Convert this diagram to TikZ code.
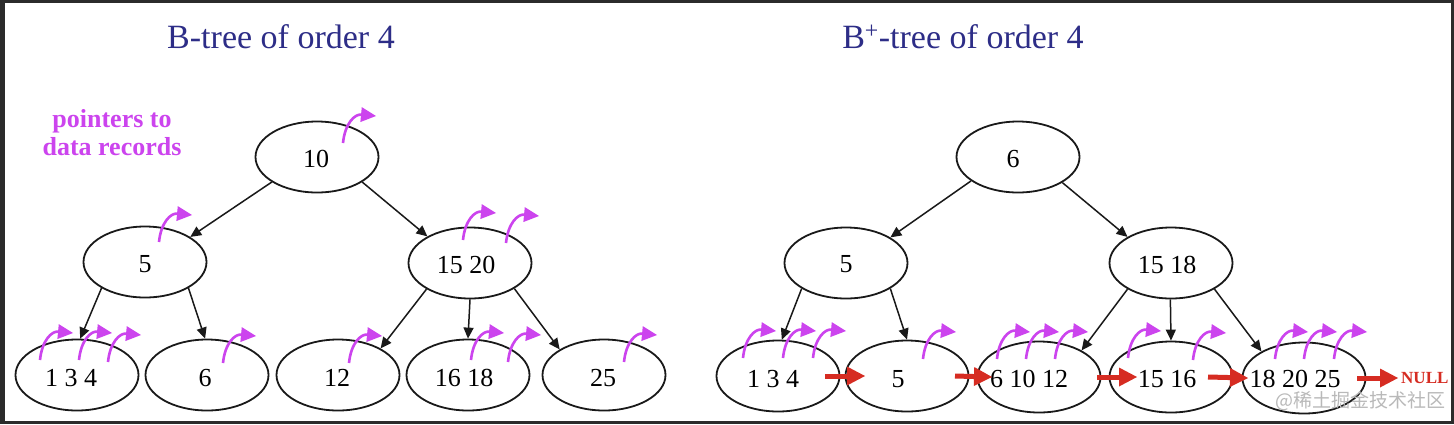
\documentclass[tikz,border=0pt]{standalone}
\usepackage{fontspec}
\setmainfont{Liberation Serif}
\newfontfamily\cjkfont{Noto Sans CJK SC}
\usetikzlibrary{shapes.geometric,arrows.meta,calc}
\definecolor{mag}{RGB}{204,68,238}
\definecolor{navy}{RGB}{45,45,135}
\definecolor{lnk}{RGB}{214,44,34}
\definecolor{framecol}{RGB}{43,43,43}
\definecolor{ink}{RGB}{25,25,25}
\definecolor{wmark}{RGB}{185,185,185}
\begin{document}
\begin{tikzpicture}[x=1pt,y=-1pt,
  bnode/.style={ellipse, draw=ink, line width=1.8pt, minimum width=123pt, minimum height=71pt, inner sep=0pt},
  keytext/.style={anchor=base, font=\fontsize{26}{26}\selectfont, text=black, inner sep=0pt},
  title/.style={anchor=base, font=\fontsize{34}{34}\selectfont, text=navy, inner sep=0pt},
  edge/.style={draw=ink, line width=1.5pt, -{Triangle[length=11pt,width=10pt]}},
  link/.style={draw=lnk, line width=5pt, -{Triangle[length=18pt,width=19pt,line width=0pt]}},
  ptrline/.style={draw=mag, line width=2.6pt, -{Triangle[length=15pt,width=15pt,line width=0pt]}},
  ptr/.pic={\draw[ptrline] (0,0) .. controls (2,-20) and (12,-29) .. (33,-27);}
]
\fill[framecol] (0,0) rectangle (1454,424);
\fill[white] (5,3) rectangle (1451,421);
\useasboundingbox (0,0) rectangle (1454,424);

% titles
\node[title] (t1) at (281,48) {B-tree of order 4};
\node[title] (t2) at (963,48) {B\textsuperscript{+}-tree of order 4};
\node[font=\bfseries\fontsize{26}{28}\selectfont, text=mag, align=center, inner sep=0pt] (plab) at (112,133) {pointers to\\data records};

% ---------------- B-tree ----------------
\node[bnode] (bR) at (317,157) {};
\node[bnode] (bA) at (145,262) {};
\node[bnode] (bB) at (470,263) {};
\node[bnode] (bL1) at (77,375) {};
\node[bnode] (bL2) at (207,375) {};
\node[bnode] (bL3) at (338,375) {};
\node[bnode] (bL4) at (468,375) {};
\node[bnode] (bL5) at (604,375) {};

\node[keytext] (tbR) at (316,167) {10};
\node[keytext] (tbA) at (145,272) {5};
\node[keytext] (tbB) at (466,273) {15 20};
\node[keytext] (tbL1) at (71,386) {1 3 4};
\node[keytext] (tbL2) at (205,386) {6};
\node[keytext] (tbL3) at (337,386) {12};
\node[keytext] (tbL4) at (464,386) {16 18};
\node[keytext] (tbL5) at (603,386) {25};

\draw[edge] (bR.209) -- (bA.29);
\draw[edge] (bR.331) -- (bB.148);
\draw[edge] (bA.211) -- (bL1.85);
\draw[edge] (bA.329) -- (bL2.93);
\draw[edge] (bB.211) -- (bL3.32);
\draw[edge] (bB.270) -- (bL4.90);
\draw[edge] (bB.330) -- (bL5.150);

\pic at ($(bR)+(26,-14)$) {ptr};
\pic at ($(bA)+(14,-20)$) {ptr};
\pic at ($(bB)+(-7,-23)$) {ptr};
\pic at ($(bB)+(36,-20)$) {ptr};
\pic at ($(bL1)+(-37,-15)$) {ptr};
\pic at ($(bL1)+(2,-15)$) {ptr};
\pic at ($(bL1)+(31,-13)$) {ptr};
\pic at ($(bL2)+(16,-12)$) {ptr};
\pic at ($(bL3)+(11,-12)$) {ptr};
\pic at ($(bL4)+(3,-15)$) {ptr};
\pic at ($(bL4)+(40,-13)$) {ptr};
\pic at ($(bL5)+(20,-13)$) {ptr};

% ---------------- B+-tree ----------------
\node[bnode] (pR) at (1018,157) {};
\node[bnode] (pA) at (846,263) {};
\node[bnode] (pB) at (1171,263) {};
\node[bnode] (pL1) at (778,376) {};
\node[bnode] (pL2) at (907,376) {};
\node[bnode] (pL3) at (1039,377) {};
\node[bnode] (pL4) at (1171,377) {};
\node[bnode] (pL5) at (1304,378) {};

\node[keytext] (tpR) at (1013,167) {6};
\node[keytext] (tpA) at (846,272) {5};
\node[keytext] (tpB) at (1167,273) {15 18};
\node[keytext] (tpL1) at (773,387) {1 3 4};
\node[keytext] (tpL2) at (898,387) {5};
\node[keytext] (tpL3) at (1029,387) {6 10 12};
\node[keytext] (tpL4) at (1167,387) {15 16};
\node[keytext] (tpL5) at (1295,387) {18 20 25};

\draw[edge] (pR.207) -- (pA.30);
\draw[edge] (pR.330) -- (pB.149);
\draw[edge] (pA.210) -- (pL1.84);
\draw[edge] (pA.330) -- (pL2.90);
\draw[edge] (pB.211) -- (pL3.32);
\draw[edge] (pB.269) -- (pL4.90);
\draw[edge] (pB.329) -- (pL5.148);

\pic at ($(pL1)+(-35,-18)$) {ptr};
\pic at ($(pL1)+(5,-18)$) {ptr};
\pic at ($(pL1)+(35,-18)$) {ptr};
\pic at ($(pL2)+(16,-17)$) {ptr};
\pic at ($(pL3)+(-42,-18)$) {ptr};
\pic at ($(pL3)+(-13,-18)$) {ptr};
\pic at ($(pL3)+(16,-18)$) {ptr};
\pic at ($(pL4)+(-43,-19)$) {ptr};
\pic at ($(pL4)+(22,-17)$) {ptr};
\pic at ($(pL5)+(-29,-19)$) {ptr};
\pic at ($(pL5)+(0,-19)$) {ptr};
\pic at ($(pL5)+(30,-19)$) {ptr};

\node[anchor=base west, inner sep=0pt, text=lnk, font=\bfseries\fontsize{17}{17}\selectfont] (null) at (1401,383) {NULL};

\draw[link] ($(pL1.center)+(47,0)$) -- ($(pL2.center)+(-42,0)$);
\draw[link] ($(pL2.center)+(48,0)$) -- ($(pL3.center)+(-47,0)$);
\draw[link] ($(pL3.center)+(58,0)$) -- ($(pL4.center)+(-34,0)$);
\draw[link] ($(pL4.center)+(37,0)$) -- ($(pL5.center)+(-56,0)$);
\draw[link] ($(pL5.center)+(53,0)$) -- ($(pL5.center -| null.west)+(-3,0)$);

\node[text=wmark, inner sep=0pt, font=\cjkfont\fontsize{19}{19}\selectfont] (wm) at (1360,401) {@稀土掘金技术社区};
\end{tikzpicture}
\end{document}
